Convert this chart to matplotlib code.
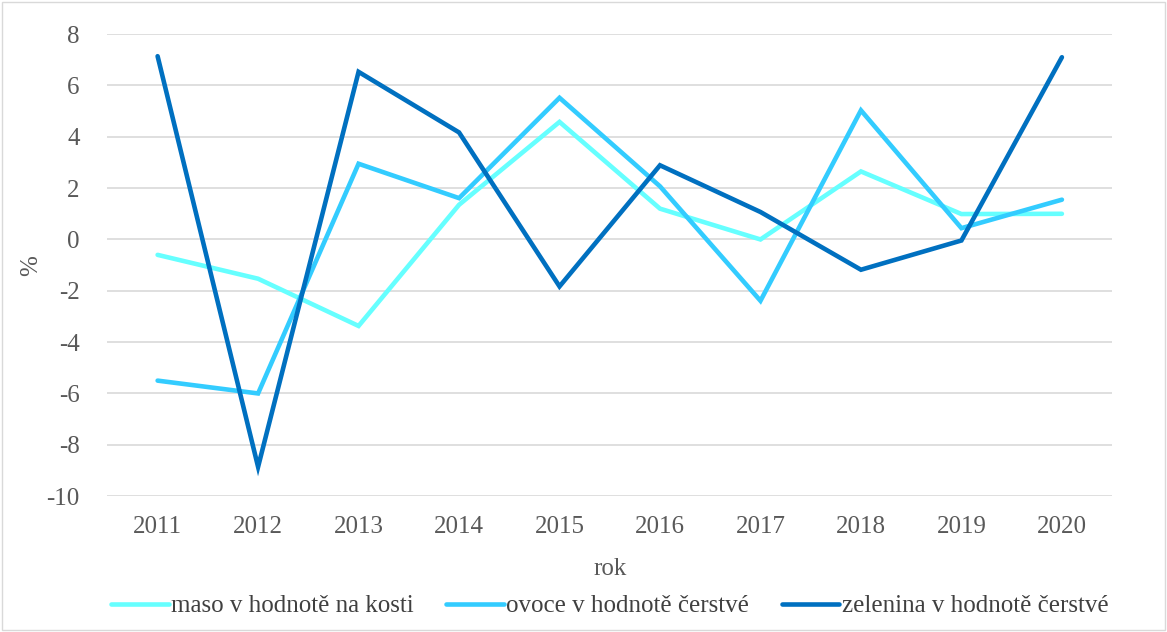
import numpy as np
import matplotlib
matplotlib.use("Agg")
import matplotlib.pyplot as plt
from matplotlib.patches import Rectangle

plt.rcParams['font.family'] = ['Liberation Serif', 'DejaVu Serif']
plt.rcParams['axes.unicode_minus'] = False

# data
years = ['2011', '2012', '2013', '2014', '2015', '2016', '2017', '2018', '2019', '2020']
maso = [-0.60, -1.53, -3.37, 1.35, 4.58, 1.20, 0.00, 2.65, 0.99, 1.00]
ovoce = [-5.50, -6.00, 2.95, 1.61, 5.52, 2.07, -2.39, 5.03, 0.44, 1.55]
zelenina = [7.14, -8.86, 6.53, 4.17, -1.83, 2.89, 1.07, -1.18, -0.04, 7.10]
series_names = ['maso v hodnotě na kosti', 'ovoce v hodnotě čerstvé', 'zelenina v hodnotě čerstvé']
colors = ['#66FFFF', '#33CCFF', '#0070C0']

fig = plt.figure(figsize=(11.67, 6.32), dpi=100)
ax = fig.add_axes([0.092, 0.215, 0.861, 0.731])

x = np.arange(len(years))
for vals, name, c in zip([maso, ovoce, zelenina], series_names, colors):
    ax.plot(x, vals, color=c, lw=3.3, label=name, solid_capstyle='round', solid_joinstyle='miter')

ax.set_xlim(-0.5, len(years) - 0.5)
ax.set_ylim(-10, 8)
ax.set_yticks(np.arange(-10, 9, 2))
ax.set_xticks(x)
ax.set_xticklabels(years)
ax.grid(axis='y', color='#D9D9D9', lw=1.2)
ax.set_axisbelow(True)
for s in ax.spines.values():
    s.set_visible(False)
ax.tick_params(length=0, labelsize=18, colors='#595959')
ax.tick_params(axis='x', pad=14)
ax.tick_params(axis='y', pad=20)

ax.set_xlabel('rok', fontsize=18, color='#595959', labelpad=15)
ax.set_ylabel('%', fontsize=18, color='#595959', labelpad=3)

leg = ax.legend(loc='upper center', bbox_to_anchor=(0.5, -0.165), ncol=3, frameon=False,
                fontsize=18, handlelength=2.3, handletextpad=0.1, columnspacing=1.3)
for t in leg.get_texts():
    t.set_color('#404040')

fig.patches.append(Rectangle((0.002, 0.003), 0.996, 0.994, transform=fig.transFigure,
                             fill=False, edgecolor='#D9D9D9', lw=1))

fig.savefig('out.png', dpi=100)
